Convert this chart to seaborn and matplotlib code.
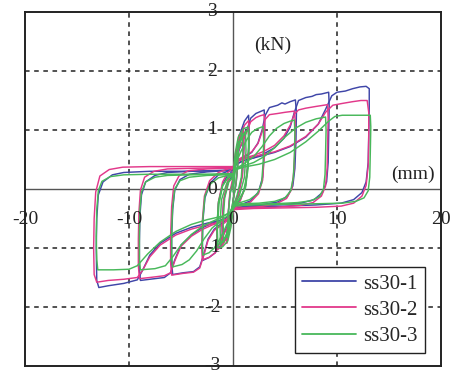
import matplotlib
matplotlib.use("Agg")
import matplotlib.pyplot as plt
from matplotlib.lines import Line2D
import pandas as pd
import seaborn as sns

# ---- hysteresis loops: (displacement mm, load kN) per cycle ----
ss30_1_c0 = [(0, 0), (0.2, 0.35), (0.45, 0.7), (0.6, 0.9), (0.5, 0.5), (0.3, 0.1), (0, -0.2), (-0.2, -0.5),
             (-0.45, -0.75), (-0.6, -0.9), (-0.5, -0.5), (-0.3, -0.1), (0, 0.15)]
ss30_1_c0b = [(0, 0.2), (0.25, 0.55), (0.6, 0.85), (1.0, 1.05), (1.05, 0.7), (0.9, 0.25), (0.5, -0.1), (0, -0.3),
              (-0.25, -0.55), (-0.6, -0.8), (-1.0, -0.92), (-1.05, -0.6), (-0.9, -0.2), (-0.5, 0.1), (0, 0.25)]
ss30_1_c1 = [(0, 0.15), (0.3, 0.6), (0.7, 0.95), (1.1, 1.15), (1.5, 1.25), (1.55, 0.95), (1.45, 0.45), (1.2, 0.05),
             (0.7, -0.18), (0.2, -0.3), (0, -0.38), (-0.3, -0.62), (-0.7, -0.82), (-1.1, -0.95), (-1.5, -1.02),
             (-1.55, -0.7), (-1.4, -0.25), (-1.0, 0.08), (-0.5, 0.24), (0, 0.3)]
ss30_1_c2 = [(0, 0.3), (0.3, 0.55), (0.8, 0.75), (1.3, 0.98), (1.7, 1.2), (2.2, 1.28), (2.6, 1.31), (3.0, 1.34),
             (3.05, 1.1), (3.0, 0.6), (2.85, 0.2), (2.45, -0.05), (1.7, -0.2), (0.7, -0.27), (0, -0.31),
             (-0.3, -0.55), (-0.8, -0.72), (-1.3, -0.92), (-1.7, -1.08), (-2.3, -1.16), (-2.9, -1.21),
             (-2.95, -1.0), (-2.9, -0.55), (-2.7, -0.15), (-2.2, 0.1), (-1.4, 0.24), (-0.5, 0.3), (0, 0.31)]
ss30_1_c3 = [(0, 0.31), (0.3, 0.45), (1.0, 0.53), (1.8, 0.62), (2.4, 0.78), (2.8, 1.0), (3.1, 1.25), (3.5, 1.38),
             (4.3, 1.42), (4.7, 1.46), (5.0, 1.44), (5.5, 1.48), (6.0, 1.51), (6.1, 1.3), (6.05, 0.8),
             (5.95, 0.35), (5.75, 0.05), (5.25, -0.12), (4.3, -0.22), (2.6, -0.27), (0.8, -0.29), (0, -0.31),
             (-0.3, -0.48), (-1.0, -0.57), (-1.8, -0.68), (-2.4, -0.85), (-2.8, -1.1), (-3.2, -1.32),
             (-3.8, -1.4), (-4.8, -1.42), (-5.8, -1.45), (-5.9, -1.25), (-5.9, -0.8), (-5.8, -0.35),
             (-5.6, -0.02), (-5.1, 0.16), (-4.2, 0.25), (-2.5, 0.29), (-0.8, 0.31), (0, 0.32)]
ss30_1_c4 = [(0, 0.32), (0.3, 0.42), (1.0, 0.48), (2.0, 0.53), (3.0, 0.6), (4.0, 0.7), (4.9, 0.86), (5.5, 1.05),
             (5.9, 1.3), (6.3, 1.5), (7.0, 1.55), (7.6, 1.57), (8.0, 1.6), (8.5, 1.61), (9.2, 1.64),
             (9.25, 1.4), (9.2, 0.9), (9.15, 0.45), (9.0, 0.12), (8.6, -0.06), (7.8, -0.18), (6.5, -0.24),
             (4.0, -0.27), (1.5, -0.29), (0, -0.31), (-0.3, -0.45), (-1.0, -0.52), (-2.0, -0.58), (-3.0, -0.66),
             (-4.0, -0.78), (-5.0, -0.95), (-5.6, -1.2), (-6.0, -1.42), (-6.6, -1.5), (-8.0, -1.53),
             (-8.9, -1.55), (-9.0, -1.35), (-9.0, -0.9), (-8.95, -0.45), (-8.8, -0.1), (-8.4, 0.12),
             (-7.5, 0.23), (-6.3, 0.28), (-4.0, 0.3), (-1.5, 0.31), (0, 0.32)]
ss30_1_c5 = [(0, 0.32), (0.3, 0.42), (1.0, 0.48), (2.5, 0.55), (4.0, 0.62), (5.5, 0.72), (7.0, 0.88), (8.2, 1.1),
             (8.9, 1.35), (9.5, 1.58), (10.0, 1.64), (10.8, 1.66), (11.5, 1.7), (12.2, 1.73), (12.8, 1.74),
             (13.1, 1.7), (13.1, 1.4), (13.05, 0.9), (13.0, 0.45), (12.8, 0.12), (12.4, -0.06), (11.6, -0.18),
             (10.4, -0.24), (8.0, -0.27), (5.0, -0.29), (2.0, -0.3), (0, -0.32), (-0.3, -0.45), (-1.0, -0.52),
             (-2.5, -0.58), (-4.0, -0.65), (-5.5, -0.75), (-7.0, -0.92), (-8.0, -1.12), (-8.7, -1.38),
             (-9.2, -1.54), (-10.5, -1.6), (-12.0, -1.64), (-12.9, -1.67), (-13.1, -1.55), (-13.15, -1.0),
             (-13.1, -0.5), (-12.95, -0.1), (-12.5, 0.12), (-11.6, 0.24), (-10.5, 0.28), (-8.0, 0.3),
             (-5.0, 0.3), (-2.0, 0.31), (0, 0.32)]

ss30_2_c0 = [(0, 0), (0.2, 0.4), (0.45, 0.75), (0.6, 0.92), (0.5, 0.5), (0.3, 0.1), (0, -0.2), (-0.2, -0.5),
             (-0.45, -0.78), (-0.6, -0.92), (-0.5, -0.5), (-0.3, -0.05), (0, 0.2)]
ss30_2_c0b = [(0, 0.22), (0.25, 0.6), (0.6, 0.88), (1.0, 1.0), (1.05, 0.68), (0.9, 0.22), (0.5, -0.12), (0, -0.32),
              (-0.25, -0.58), (-0.6, -0.82), (-1.0, -0.95), (-1.05, -0.62), (-0.9, -0.18), (-0.5, 0.14), (0, 0.3)]
ss30_2_c1 = [(0, 0.2), (0.3, 0.6), (0.7, 0.9), (1.1, 1.08), (1.5, 1.16), (1.55, 0.9), (1.45, 0.45), (1.2, 0.05),
             (0.7, -0.2), (0.2, -0.32), (0, -0.4), (-0.3, -0.65), (-0.7, -0.85), (-1.1, -0.97), (-1.5, -1.03),
             (-1.55, -0.7), (-1.4, -0.22), (-1.0, 0.12), (-0.5, 0.28), (0, 0.35)]
ss30_2_c2 = [(0, 0.35), (0.3, 0.58), (0.8, 0.76), (1.3, 0.96), (1.7, 1.14), (2.2, 1.21), (2.6, 1.24), (3.0, 1.26),
             (3.05, 1.05), (3.0, 0.55), (2.85, 0.15), (2.45, -0.08), (1.7, -0.22), (0.7, -0.29), (0, -0.33),
             (-0.3, -0.57), (-0.8, -0.74), (-1.3, -0.93), (-1.7, -1.08), (-2.3, -1.16), (-2.95, -1.2),
             (-3.0, -1.0), (-2.95, -0.55), (-2.75, -0.12), (-2.25, 0.14), (-1.4, 0.28), (-0.5, 0.34), (0, 0.36)]
ss30_2_c3 = [(0, 0.36), (0.3, 0.48), (1.0, 0.55), (1.8, 0.63), (2.4, 0.77), (2.8, 0.97), (3.1, 1.18), (3.5, 1.26),
             (4.3, 1.28), (5.0, 1.3), (5.9, 1.32), (6.0, 1.12), (5.95, 0.7), (5.85, 0.3), (5.65, 0.0),
             (5.15, -0.16), (4.2, -0.25), (2.6, -0.3), (0.8, -0.32), (0, -0.34), (-0.3, -0.5), (-1.0, -0.6),
             (-1.8, -0.7), (-2.4, -0.87), (-2.8, -1.12), (-3.2, -1.34), (-3.8, -1.41), (-4.8, -1.43),
             (-5.9, -1.46), (-6.0, -1.25), (-6.0, -0.8), (-5.9, -0.3), (-5.7, 0.05), (-5.2, 0.22),
             (-4.3, 0.31), (-2.5, 0.34), (-0.8, 0.35), (0, 0.36)]
ss30_2_c4 = [(0, 0.36), (0.3, 0.46), (1.0, 0.52), (2.0, 0.57), (3.0, 0.64), (4.0, 0.74), (4.9, 0.9), (5.5, 1.08),
             (5.9, 1.27), (6.3, 1.34), (7.0, 1.37), (8.0, 1.4), (9.1, 1.43), (9.15, 1.2), (9.1, 0.75),
             (9.05, 0.35), (8.9, 0.05), (8.5, -0.12), (7.7, -0.23), (6.4, -0.28), (4.0, -0.31), (1.5, -0.32),
             (0, -0.34), (-0.3, -0.48), (-1.0, -0.55), (-2.0, -0.61), (-3.0, -0.69), (-4.0, -0.8), (-5.0, -0.97),
             (-5.6, -1.22), (-6.0, -1.42), (-6.6, -1.47), (-8.0, -1.5), (-9.0, -1.52), (-9.1, -1.3),
             (-9.1, -0.85), (-9.05, -0.4), (-8.9, -0.02), (-8.5, 0.2), (-7.6, 0.3), (-6.3, 0.34), (-4.0, 0.35),
             (-1.5, 0.36), (0, 0.37)]
ss30_2_c5 = [(0, 0.37), (0.3, 0.46), (1.0, 0.51), (2.5, 0.57), (4.0, 0.63), (5.5, 0.73), (7.0, 0.89), (8.2, 1.1),
             (8.9, 1.3), (9.6, 1.42), (10.5, 1.45), (11.5, 1.48), (12.3, 1.5), (12.9, 1.5), (13.05, 1.3),
             (13.05, 0.85), (13.0, 0.4), (12.8, 0.06), (12.4, -0.12), (11.6, -0.24), (10.4, -0.29), (8.0, -0.31),
             (5.0, -0.32), (2.0, -0.33), (0, -0.35), (-0.3, -0.48), (-1.0, -0.55), (-2.5, -0.61), (-4.0, -0.68),
             (-5.5, -0.78), (-7.0, -0.95), (-8.0, -1.15), (-8.7, -1.38), (-9.2, -1.5), (-10.5, -1.53),
             (-12.0, -1.55), (-13.1, -1.58), (-13.35, -1.45), (-13.4, -1.0), (-13.35, -0.5), (-13.2, -0.05),
             (-12.8, 0.22), (-11.9, 0.33), (-10.6, 0.37), (-8.0, 0.38), (-5.0, 0.38), (-2.0, 0.38), (0, 0.38)]

ss30_3_c0 = [(0, -0.05), (0.2, 0.3), (0.4, 0.6), (0.55, 0.8), (0.45, 0.4), (0.25, 0.05), (0, -0.2),
             (-0.2, -0.45), (-0.4, -0.7), (-0.55, -0.82), (-0.45, -0.4), (-0.25, -0.05), (0, 0.12)]
ss30_3_c1 = [(0, 0.12), (0.3, 0.5), (0.6, 0.8), (0.9, 0.95), (0.95, 0.6), (0.8, 0.2), (0.4, -0.1), (0, -0.3),
             (-0.3, -0.55), (-0.6, -0.78), (-0.9, -0.9), (-0.95, -0.55), (-0.8, -0.15), (-0.4, 0.12), (0, 0.2)]
ss30_3_c1b = [(0, 0.15), (0.3, 0.5), (0.7, 0.8), (1.2, 0.98), (1.25, 0.65), (1.1, 0.2), (0.6, -0.12), (0, -0.32),
              (-0.3, -0.58), (-0.7, -0.82), (-1.2, -0.95), (-1.25, -0.6), (-1.1, -0.18), (-0.6, 0.1), (0, 0.2)]
ss30_3_c2 = [(0, 0.2), (0.3, 0.55), (0.7, 0.82), (1.1, 0.95), (1.5, 1.0), (1.55, 0.75), (1.45, 0.35), (1.2, 0.02),
             (0.7, -0.17), (0.2, -0.25), (0, -0.33), (-0.3, -0.6), (-0.7, -0.8), (-1.1, -0.9), (-1.5, -0.95),
             (-1.55, -0.65), (-1.4, -0.22), (-1.0, 0.06), (-0.5, 0.18), (0, 0.23)]
ss30_3_c2b = [(0, 0.23), (0.2, 0.6), (0.5, 0.88), (1.0, 1.02), (1.45, 1.05), (1.5, 0.7), (1.35, 0.25), (1.0, -0.05),
              (0.5, -0.2), (0, -0.35), (-0.2, -0.65), (-0.5, -0.88), (-1.0, -0.98), (-1.45, -1.0), (-1.5, -0.7),
              (-1.35, -0.25), (-1.0, 0.05), (-0.5, 0.2), (0, 0.25)]
ss30_3_c3 = [(0, 0.23), (0.3, 0.45), (0.8, 0.65), (1.3, 0.83), (1.8, 0.96), (2.3, 1.02), (2.9, 1.06), (2.95, 0.85),
             (2.9, 0.45), (2.75, 0.1), (2.35, -0.08), (1.6, -0.18), (0.7, -0.23), (0, -0.26), (-0.3, -0.5),
             (-0.8, -0.68), (-1.3, -0.86), (-1.8, -1.0), (-2.3, -1.08), (-2.9, -1.12), (-2.95, -0.9),
             (-2.9, -0.5), (-2.7, -0.12), (-2.2, 0.08), (-1.4, 0.19), (-0.5, 0.23), (0, 0.24)]
ss30_3_c4 = [(0, 0.24), (0.3, 0.35), (1.0, 0.42), (2.0, 0.55), (2.8, 0.72), (3.5, 0.9), (4.2, 1.03), (4.9, 1.11),
             (5.5, 1.15), (5.9, 1.17), (5.95, 0.95), (5.9, 0.55), (5.8, 0.2), (5.55, -0.03), (5.0, -0.15),
             (4.0, -0.21), (2.5, -0.24), (0.8, -0.25), (0, -0.27), (-0.3, -0.42), (-1.0, -0.52), (-2.0, -0.66),
             (-2.8, -0.85), (-3.5, -1.05), (-4.2, -1.2), (-4.9, -1.28), (-5.8, -1.32), (-5.9, -1.15),
             (-5.9, -0.7), (-5.8, -0.3), (-5.6, 0.0), (-5.1, 0.14), (-4.2, 0.2), (-2.5, 0.23), (-0.8, 0.24),
             (0, 0.25)]
ss30_3_c5 = [(0, 0.25), (0.3, 0.34), (1.0, 0.39), (2.0, 0.45), (3.0, 0.55), (4.0, 0.7), (5.0, 0.88), (6.0, 1.03),
             (7.0, 1.13), (8.0, 1.19), (8.9, 1.22), (8.95, 1.0), (8.9, 0.6), (8.85, 0.25), (8.7, 0.0),
             (8.3, -0.13), (7.5, -0.2), (6.2, -0.23), (4.0, -0.25), (1.5, -0.26), (0, -0.28), (-0.3, -0.4),
             (-1.0, -0.47), (-2.0, -0.55), (-3.0, -0.64), (-4.0, -0.77), (-5.0, -0.95), (-5.8, -1.15),
             (-6.5, -1.3), (-7.5, -1.35), (-8.9, -1.37), (-9.0, -1.2), (-9.0, -0.75), (-8.95, -0.35),
             (-8.8, -0.05), (-8.4, 0.12), (-7.5, 0.2), (-6.3, 0.23), (-4.0, 0.24), (-1.5, 0.25), (0, 0.26)]
ss30_3_c6 = [(0, 0.26), (0.3, 0.33), (1.0, 0.37), (2.5, 0.42), (4.0, 0.5), (5.5, 0.62), (7.0, 0.8), (8.2, 0.98),
             (9.2, 1.15), (9.8, 1.23), (10.5, 1.25), (12.0, 1.25), (13.2, 1.25), (13.25, 1.05), (13.2, 0.6),
             (13.15, 0.2), (13.0, -0.03), (12.6, -0.15), (11.8, -0.21), (10.5, -0.24), (8.0, -0.25),
             (5.0, -0.26), (2.0, -0.27), (0, -0.29), (-0.3, -0.4), (-1.0, -0.46), (-2.5, -0.52), (-4.0, -0.6),
             (-5.5, -0.72), (-7.0, -0.9), (-8.2, -1.1), (-9.2, -1.3), (-10.0, -1.36), (-11.5, -1.37),
             (-13.0, -1.37), (-13.1, -1.2), (-13.15, -0.8), (-13.1, -0.35), (-12.95, -0.03), (-12.6, 0.13),
             (-11.8, 0.21), (-10.5, 0.24), (-8.0, 0.25), (-5.0, 0.25), (-2.0, 0.25), (0, 0.26)]

specimens = ["ss30-1", "ss30-2", "ss30-3"]
colors = ["#3f46a8", "#e2388a", "#48b85a"]
cycles = {
    "ss30-1": [ss30_1_c0, ss30_1_c0b, ss30_1_c1, ss30_1_c2, ss30_1_c3, ss30_1_c4, ss30_1_c5],
    "ss30-2": [ss30_2_c0, ss30_2_c0b, ss30_2_c1, ss30_2_c2, ss30_2_c3, ss30_2_c4, ss30_2_c5],
    "ss30-3": [ss30_3_c0, ss30_3_c1, ss30_3_c1b, ss30_3_c2, ss30_3_c2b, ss30_3_c3, ss30_3_c4, ss30_3_c5,
               ss30_3_c6],
}

x_ticks = [-20, -10, 0, 10, 20]
y_ticks = [3, 2, 1, 0, -1, -2, -3]

rows = []
for name in specimens:
    for k, loop in enumerate(cycles[name]):
        for i, (d, f) in enumerate(loop):
            rows.append({"specimen": name, "cycle": f"{name}-{k}", "order": i, "disp": d, "load": f})
df = pd.DataFrame(rows)

sns.set_theme(style="white")
plt.rcParams["font.family"] = ["Liberation Serif", "DejaVu Serif"]

fig = plt.figure(figsize=(4.57, 3.76), dpi=100)
ax = fig.add_axes([25 / 457, 10 / 376, 416 / 457, 354 / 376])
ax.set_xlim(-20, 20)
ax.set_ylim(-3, 3)

# dashed grid and solid zero axes
for gx in (-10, 10):
    ax.axvline(gx, color="#222222", lw=1.1, ls=(0, (3, 3)), zorder=1)
for gy in (-2, -1, 1, 2):
    ax.axhline(gy, color="#222222", lw=1.1, ls=(0, (3, 3)), zorder=1)
ax.axhline(0, color="#555555", lw=1.0, zorder=1)
ax.axvline(0, color="#555555", lw=1.0, zorder=1)

for name, col in zip(specimens, colors):
    sub = df[df["specimen"] == name]
    sns.lineplot(data=sub, x="disp", y="load", units="cycle", estimator=None, sort=False,
                 color=col, lw=1.05, ax=ax, legend=False, zorder=3)

ax.set_xticks([])
ax.set_yticks([])
ax.set_xlabel("")
ax.set_ylabel("")
for s in ax.spines.values():
    s.set_visible(True)
    s.set_color("#222222")
    s.set_linewidth(1.4)

for v in x_ticks:
    ax.text(v, -0.52, f"{v}", ha="center", va="center", fontsize=14, color="#222222", zorder=4)
for v in y_ticks:
    ax.text(-2.0, v, f"{v}", ha="center", va="center", fontsize=14, color="#222222", zorder=4,
            clip_on=False)

ax.text(3.85, 2.44, "(kN)", ha="center", va="center", fontsize=14, color="#222222")
ax.text(17.3, 0.25, "(mm)", ha="center", va="center", fontsize=14, color="#222222")

handles = [Line2D([0], [0], color=c, lw=1.3) for c in colors]
leg = ax.legend(handles, specimens, loc="lower right", bbox_to_anchor=(0.962, 0.037), fontsize=15,
                frameon=True, fancybox=False, framealpha=1, edgecolor="#222222", handlelength=2.6,
                handletextpad=0.35, labelspacing=0.31, borderpad=0.34, borderaxespad=0.0)
leg.get_frame().set_linewidth(1.0)

fig.savefig("out.png", dpi=100)
